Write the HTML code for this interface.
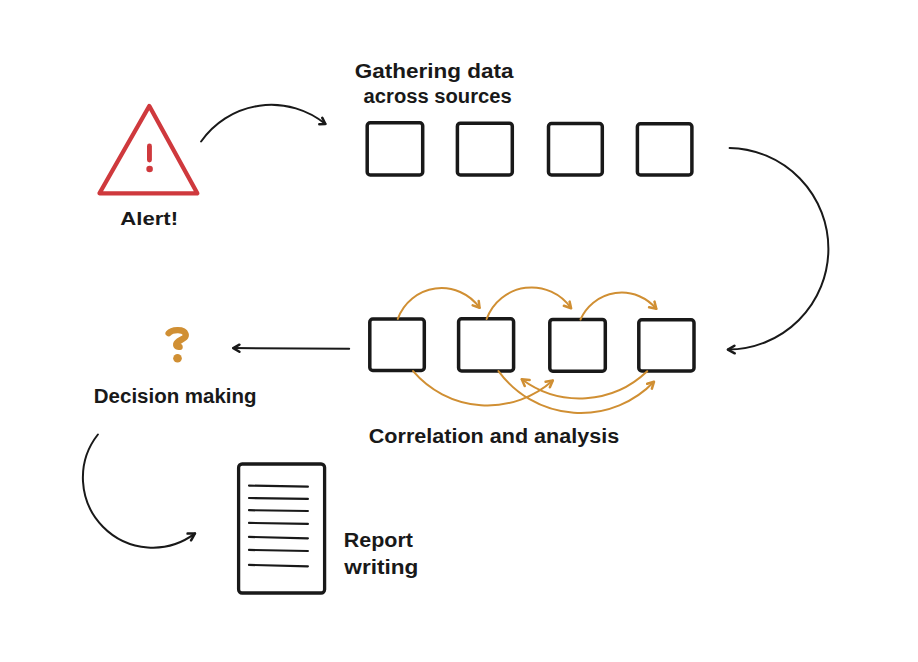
<!DOCTYPE html>
<html><head><meta charset="utf-8"><style>
html,body{margin:0;padding:0;background:#fff;width:918px;height:662px;overflow:hidden}
svg{position:absolute;left:0;top:0;display:block}
text{font-family:"Liberation Sans",sans-serif}
</style></head><body>
<svg width="918" height="662" viewBox="0 0 918 662">
<g fill="none" stroke="#191919" stroke-width="3.5" stroke-linejoin="round"><rect x="367.2" y="122.8" width="55.5" height="52.2" rx="3" ry="3"/><rect x="457.4" y="123.2" width="54.9" height="51.7" rx="3" ry="3"/><rect x="548.5" y="123.5" width="53.8" height="51.5" rx="3" ry="3"/><rect x="637.4" y="123.8" width="54.5" height="51.2" rx="3" ry="3"/><rect x="369.8" y="319.1" width="54.5" height="51.4" rx="3" ry="3"/><rect x="458.6" y="318.8" width="55.0" height="52.2" rx="3" ry="3"/><rect x="549.8" y="319.4" width="55.5" height="51.8" rx="3" ry="3"/><rect x="638.8" y="319.8" width="55.2" height="51.2" rx="3" ry="3"/></g>
<path fill="none" stroke="#191919" stroke-width="2" stroke-linecap="round" stroke-linejoin="round" d="M201.10 141.50 A85.712 85.712 0 0 1 325.40 124.00 M729.60 147.90 A100.861 100.861 0 0 1 727.90 349.60 M97.90 434.50 A69.861 69.861 0 0 0 195.00 533.40 M349.2 348.7 L233.3 348.1"/>
<path fill="none" stroke="#191919" stroke-width="2.5" stroke-linecap="round" stroke-linejoin="round" d="M322.3 117.9 L325.4 124.0 L319.3 124.2 M734.4 345.7 L727.9 349.6 L734.7 353.3 M187.6 533.6 L195.0 533.4 L191.1 540.3 M239.4 344.7 L233.3 348.1 L239.4 351.8"/>
<path fill="none" stroke="#d08f33" stroke-width="2" stroke-linecap="round" stroke-linejoin="round" d="M397.80 318.90 A46.525 46.525 0 0 1 479.60 307.80 M486.60 319.00 A47.869 47.869 0 0 1 571.10 308.20 M580.50 319.50 A45.021 45.021 0 0 1 656.30 308.80 M413.10 371.10 A97.891 97.891 0 0 0 552.80 380.50 M498.50 371.10 A101.523 101.523 0 0 0 654.00 381.80 M647.20 371.30 A97.283 97.283 0 0 1 521.80 379.20"/>
<path fill="none" stroke="#d08f33" stroke-width="2.5" stroke-linecap="round" stroke-linejoin="round" d="M478.7 301.0 L479.6 307.8 L472.7 305.4 M569.6 301.6 L571.1 308.2 L563.9 305.8 M654.5 301.6 L656.3 308.8 L649.1 307.3 M545.6 381.8 L552.8 380.5 L549.9 387.3 M647.2 383.8 L654.0 381.8 L651.9 388.6 M529.6 380.1 L521.8 379.2 L524.7 386.0"/>
<path fill="none" stroke="#cf393d" stroke-width="4.3" stroke-linejoin="round" d="M149.3 106 L197.3 193.3 L99.5 193.3 Z"/>
<path fill="none" stroke="#cf393d" stroke-width="4.9" stroke-linecap="round" d="M149.45 146 L149.45 160"/>
<circle cx="149.6" cy="169" r="3.3" fill="#cf393d"/>
<path fill="none" stroke="#d08f33" stroke-width="6.3" stroke-linecap="round" stroke-linejoin="round" d="M168.6 333.2 C171.5 329.8 183.5 328.2 185.6 334 C187.3 339 177 340 176.2 344.2 C175.9 346.6 178 347 179.6 346.8"/>
<circle cx="177.5" cy="358.3" r="4.3" fill="#d08f33"/>
<g fill="none" stroke="#191919" stroke-width="3.3" stroke-linejoin="round"><rect x="238.6" y="464.0" width="86.0" height="129.0" rx="3.5" ry="3.5"/></g>
<path fill="none" stroke="#191919" stroke-width="2.2" stroke-linecap="round" d="M249 485.6 L307.9 486.7 M249 498.0 L307.9 498.9 M249 510.2 L307.9 511.0 M249 522.9 L307.9 523.9 M249 536.9 L307.9 538.3 M249 549.9 L307.9 551.0 M249 564.9 L307.9 566.3"/>
<g font-family="Liberation Sans, sans-serif" font-weight="bold" fill="#191919"><text x="354.8" y="77.8" font-size="19.5" textLength="158.8" lengthAdjust="spacingAndGlyphs">Gathering data</text><text x="363.6" y="103.2" font-size="19.5" textLength="148.1" lengthAdjust="spacingAndGlyphs">across sources</text><text x="120.3" y="224.5" font-size="19" textLength="57.8" lengthAdjust="spacingAndGlyphs">Alert!</text><text x="93.8" y="402.8" font-size="19.5" textLength="162.8" lengthAdjust="spacingAndGlyphs">Decision making</text><text x="368.8" y="443.1" font-size="19.5" textLength="250.4" lengthAdjust="spacingAndGlyphs">Correlation and analysis</text><text x="343.8" y="546.8" font-size="19.5" textLength="69.2" lengthAdjust="spacingAndGlyphs">Report</text><text x="344.3" y="573.7" font-size="19.5" textLength="74.1" lengthAdjust="spacingAndGlyphs">writing</text></g>
</svg>
</body></html>
